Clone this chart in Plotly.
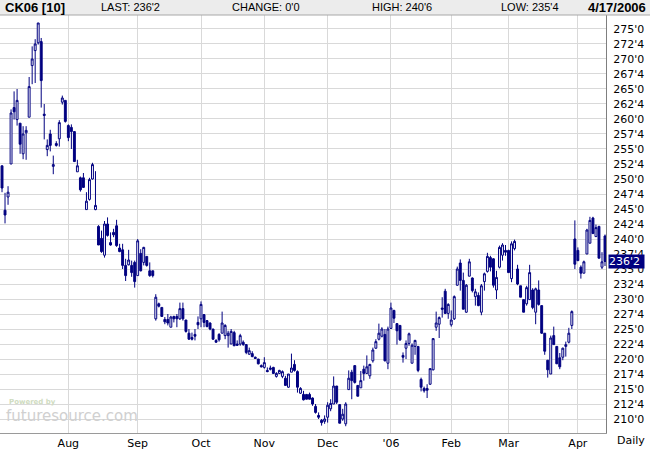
import pandas as pd
import plotly.graph_objects as go

# CK06 corn futures, daily bars, prices in cents
holidays = ['2005-07-04', '2005-09-05', '2005-11-24', '2005-12-26',
            '2006-01-02', '2006-01-16', '2006-02-20', '2006-04-14']
days = pd.bdate_range('2005-06-29', '2006-04-17', freq='C', holidays=holidays)
dates = [d.strftime('%Y-%m-%d') for d in days]

opens = [252.2, 244.8, 247.0, 252.5, 261.9, 259.9, 259.3, 254.2, 257.7, 260.3,
         268.9, 271.4, 272.7, 272.9, 260.8, 254.9, 257.5, 252.1, 255.9, 256.7,
         262.8, 263.1, 258.9, 258.6, 257.9, 251.2, 250.2, 250.2, 244.9, 246.6,
         250.0, 244.9, 242.1, 240.1, 237.3, 242.5, 239.4, 241.1, 242.2, 238.5,
         238.2, 235.6, 235.7, 235.6, 236.1, 233.9, 237.6, 236.1, 237.1, 234.7,
         234.7, 226.7, 229.2, 228.6, 226.6, 226.6, 225.3, 227.1, 227.1, 226.7,
         228.4, 226.5, 224.3, 223.6, 224.1, 226.1, 226.7, 227.4, 226.4, 226.0,
         225.0, 223.1, 224.1, 224.3, 223.9, 223.9, 222.5, 224.4, 222.5, 222.5,
         222.8, 222.4, 220.8, 220.9, 220.3, 220.0, 218.9, 218.6, 218.1, 218.5,
         218.6, 217.1, 217.6, 217.1, 216.8, 215.3, 217.8, 219.1, 217.9, 214.3,
         214.1, 214.1, 214.1, 213.5, 212.1, 210.6, 209.8, 209.6, 210.3, 211.7,
         212.5, 215.5, 212.4, 210.0, 209.2, 214.9, 217.8, 218.9, 215.6, 215.2,
         218.3, 217.6, 217.2, 219.7, 221.8, 223.3, 223.8, 224.1, 219.3, 225.1,
         228.1, 225.9, 225.6, 220.6, 221.8, 222.6, 219.3, 222.1, 222.1, 216.6,
         215.1, 215.1, 215.8, 218.2, 225.3, 225.8, 228.5, 231.3, 227.6, 225.7,
         226.7, 232.3, 236.0, 233.1, 227.8, 233.8, 233.5, 230.4, 230.6, 227.8,
         232.9, 234.6, 236.9, 236.7, 231.5, 235.3, 237.3, 238.1, 238.1, 233.4,
         238.4, 235.0, 232.2, 229.9, 229.2, 229.9, 231.5, 227.8, 231.5, 228.9,
         224.3, 219.8, 217.5, 223.9, 222.1, 220.2, 220.3, 222.1, 222.8, 225.6,
         240.0, 238.1, 235.3, 234.3, 237.5, 239.3, 243.5, 240.4, 242.1, 235.3,
         240.5]
highs = [252.2, 247.7, 248.8, 261.6, 264.6, 265.0, 259.3, 258.8, 258.8, 267.0,
         272.1, 273.3, 276.0, 273.5, 262.5, 256.6, 258.2, 253.9, 256.3, 259.8,
         263.9, 263.1, 259.1, 259.1, 257.9, 253.2, 250.4, 251.0, 247.8, 250.2,
         252.7, 251.3, 242.3, 241.4, 243.0, 243.6, 241.1, 241.7, 243.2, 239.2,
         239.2, 236.7, 238.2, 236.4, 236.4, 240.0, 238.3, 238.7, 237.1, 236.1,
         234.7, 230.8, 229.4, 228.6, 227.0, 227.5, 227.2, 227.2, 227.5, 229.4,
         229.4, 226.5, 225.0, 224.4, 225.0, 227.1, 229.6, 227.4, 226.5, 226.1,
         225.0, 223.3, 224.3, 227.9, 225.8, 224.7, 225.0, 224.7, 223.1, 224.2,
         223.1, 222.5, 221.9, 221.3, 220.4, 220.0, 219.1, 220.3, 218.6, 218.9,
         218.7, 217.8, 218.2, 218.1, 217.2, 217.5, 220.9, 219.8, 218.1, 215.3,
         214.7, 214.1, 214.4, 213.6, 212.5, 211.1, 210.0, 210.6, 212.8, 213.3,
         217.1, 215.5, 212.4, 211.7, 212.8, 218.1, 218.2, 218.9, 215.6, 218.0,
         218.9, 220.6, 219.2, 221.9, 223.3, 225.9, 225.3, 225.0, 225.4, 229.4,
         228.2, 225.9, 225.6, 221.1, 223.1, 224.4, 222.6, 223.2, 222.1, 216.9,
         215.4, 215.8, 218.4, 223.5, 227.9, 227.1, 230.3, 231.7, 229.3, 228.1,
         230.6, 235.4, 236.6, 234.4, 232.5, 236.7, 233.6, 231.7, 231.1, 232.5,
         234.4, 237.7, 237.2, 236.8, 234.7, 238.9, 239.3, 239.0, 238.2, 239.6,
         239.9, 235.7, 232.2, 229.9, 232.2, 235.7, 231.8, 231.9, 233.1, 228.9,
         224.3, 219.8, 223.9, 225.4, 222.1, 221.0, 221.9, 222.9, 225.2, 228.1,
         243.1, 238.6, 235.6, 236.4, 241.7, 243.7, 243.7, 242.4, 242.2, 237.8,
         240.75]
lows = [247.8, 242.6, 245.7, 252.5, 259.9, 258.9, 254.2, 253.3, 253.2, 260.3,
        265.8, 266.0, 272.4, 261.9, 256.6, 253.8, 254.6, 250.8, 255.4, 255.4,
        262.4, 259.4, 256.3, 255.0, 252.9, 251.2, 247.9, 248.5, 244.9, 246.4,
        249.9, 244.8, 239.0, 237.7, 236.9, 240.4, 238.9, 240.3, 238.7, 237.8,
        235.0, 233.0, 235.6, 233.7, 231.9, 233.9, 234.6, 235.6, 235.4, 233.7,
        233.6, 226.4, 228.6, 227.0, 225.8, 225.6, 225.3, 226.1, 225.3, 226.5,
        226.4, 224.4, 223.2, 223.1, 223.1, 225.0, 225.3, 225.3, 225.3, 224.8,
        223.2, 222.7, 222.9, 224.3, 223.3, 221.9, 222.5, 222.2, 222.2, 222.2,
        222.2, 220.8, 220.7, 220.3, 220.0, 219.1, 218.6, 218.4, 217.8, 218.1,
        217.5, 216.9, 217.5, 216.8, 215.6, 215.2, 217.8, 217.9, 214.4, 214.2,
        213.1, 213.3, 213.3, 212.2, 210.9, 210.0, 208.9, 209.2, 209.4, 211.3,
        212.5, 212.5, 209.3, 209.7, 208.8, 214.9, 213.3, 215.9, 213.8, 215.2,
        216.4, 217.6, 216.7, 219.4, 221.7, 223.1, 223.6, 219.6, 218.3, 225.0,
        226.0, 222.4, 223.0, 219.4, 220.0, 222.2, 219.3, 220.7, 217.8, 214.6,
        214.4, 213.5, 215.7, 218.1, 224.7, 223.5, 226.9, 227.6, 226.7, 225.4,
        226.5, 232.2, 231.4, 228.3, 227.7, 233.8, 231.1, 228.9, 228.8, 227.3,
        231.4, 234.4, 234.6, 231.9, 230.0, 235.1, 236.4, 237.2, 234.4, 232.8,
        238.1, 232.3, 230.3, 227.8, 228.9, 229.9, 228.3, 225.8, 228.9, 224.2,
        220.7, 216.9, 217.5, 222.4, 219.2, 218.3, 219.8, 220.4, 222.6, 225.0,
        235.0, 236.3, 233.4, 234.3, 237.5, 239.3, 240.9, 240.4, 236.8, 235.0,
        235.5]
closes = [248.5, 244.0, 247.8, 261.0, 261.2, 263.1, 255.8, 257.5, 258.1, 265.4,
          270.0, 272.5, 276.0, 266.4, 260.6, 255.6, 255.6, 252.4, 255.6, 259.4,
          263.5, 259.6, 256.9, 257.9, 252.9, 252.2, 248.2, 248.6, 246.3, 249.9,
          252.4, 245.6, 239.0, 237.9, 242.5, 240.6, 239.0, 240.7, 238.9, 237.9,
          235.6, 233.9, 236.5, 234.4, 232.9, 239.7, 234.7, 238.6, 235.6, 233.9,
          233.9, 230.3, 228.8, 227.1, 226.2, 226.0, 227.0, 226.7, 226.7, 228.4,
          226.7, 224.6, 223.3, 223.3, 223.8, 225.7, 229.1, 226.1, 225.4, 225.0,
          223.3, 222.8, 223.2, 226.0, 225.6, 224.3, 224.6, 222.2, 222.3, 223.9,
          222.4, 221.1, 221.4, 220.4, 220.1, 219.2, 218.7, 219.4, 217.9, 218.3,
          217.6, 217.6, 218.1, 217.9, 215.6, 217.5, 218.5, 218.1, 215.3, 215.1,
          213.2, 213.3, 213.3, 212.5, 211.1, 210.3, 209.4, 210.0, 212.3, 212.6,
          215.5, 212.8, 209.3, 210.8, 212.5, 216.8, 216.4, 216.1, 213.8, 216.4,
          217.6, 218.7, 219.1, 221.5, 222.9, 224.3, 225.0, 219.7, 225.0, 228.5,
          226.8, 224.7, 223.2, 220.3, 222.6, 224.2, 222.3, 223.1, 218.1, 215.3,
          214.7, 214.8, 218.4, 223.4, 226.0, 226.9, 228.3, 227.6, 229.1, 226.5,
          230.4, 235.0, 233.1, 228.3, 232.3, 236.2, 231.4, 231.2, 228.9, 232.2,
          234.2, 237.1, 235.3, 232.3, 233.6, 238.6, 239.0, 237.8, 234.4, 239.2,
          239.6, 232.5, 230.3, 227.8, 231.9, 234.4, 228.6, 231.7, 229.1, 224.3,
          221.3, 218.2, 223.5, 222.4, 219.2, 218.7, 221.8, 222.4, 224.3, 227.9,
          235.8, 236.4, 234.3, 236.2, 241.5, 243.1, 240.9, 241.9, 236.8, 236.2,
          236.25]

month_ticks = ['2005-08-01', '2005-09-01', '2005-10-03', '2005-11-01', '2005-12-01',
               '2006-01-03', '2006-02-01', '2006-03-01', '2006-04-03']
month_labels = ['Aug', 'Sep', 'Oct', 'Nov', 'Dec', "'06", 'Feb', 'Mar', 'Apr']

price_ticks = [210 + 2.5 * k for k in range(27)]


def eighths(p):
    whole = int(p)
    return "%d'%d" % (whole, round((p - whole) * 8))


navy = '#000080'
last, change, high, low = closes[-1], 0.0, highs[-1], lows[-1]

fig = go.Figure(go.Candlestick(
    x=dates, open=opens, high=highs, low=lows, close=closes,
    increasing=dict(line=dict(color=navy, width=1), fillcolor='white'),
    decreasing=dict(line=dict(color=navy, width=1), fillcolor=navy),
    whiskerwidth=0, hoverinfo='skip', showlegend=False))

fig.update_layout(
    width=650, height=450,
    margin=dict(l=0, r=44, t=15, b=17),
    paper_bgcolor='white', plot_bgcolor='white',
    boxgap=0.1,
    font=dict(family='DejaVu Sans', size=11, color='black'),
    xaxis=dict(type='category', range=[-0.67, len(dates) - 0.67],
               tickvals=month_ticks, ticktext=month_labels,
               showgrid=True, gridcolor='#d9d9d9', gridwidth=1,
               showline=True, linecolor='#9a9a9a', linewidth=1,
               ticks='', ticklabelstandoff=0,
               rangeslider=dict(visible=False), fixedrange=True),
    yaxis=dict(side='right', range=[207.67, 277.33],
               tickvals=price_ticks, ticktext=[eighths(p) for p in price_ticks],
               showgrid=True, gridcolor='#d9d9d9', gridwidth=1,
               showline=True, linecolor='#7f7f7f', linewidth=1,
               ticks='', ticklabelstandoff=4, zeroline=False, fixedrange=True),
)

# header band
fig.add_shape(type='rect', xref='paper', yref='paper',
              x0=0, x1=650 / 606, y0=1.0, y1=433 / 418,
              fillcolor='#ececec', line=dict(width=0), layer='below')
fig.add_shape(type='line', xref='paper', yref='paper',
              x0=0, x1=650 / 606, y0=1.0, y1=1.0,
              line=dict(color='#a8a8a8', width=1))

hy = 1.019
head = dict(xref='paper', yref='paper', y=hy, yanchor='middle', showarrow=False,
            font=dict(family='Liberation Sans', size=11, color='black'))
fig.add_annotation(x=3 / 606, xanchor='left', text='<b>CK06 [10]</b>',
                   **{**head, 'font': dict(family='Liberation Sans', size=13)})
fig.add_annotation(x=130 / 606, xanchor='center', text='LAST: ' + eighths(last), **head)
fig.add_annotation(x=266 / 606, xanchor='center', text='CHANGE: ' + eighths(change), **head)
fig.add_annotation(x=402 / 606, xanchor='center', text='HIGH: ' + eighths(high), **head)
fig.add_annotation(x=530 / 606, xanchor='center', text='LOW: ' + eighths(low), **head)
fig.add_annotation(x=648 / 606, xanchor='right', text='<b>4/17/2006</b>',
                   **{**head, 'font': dict(family='Liberation Sans', size=13)})

# last price box on the axis
fig.add_annotation(xref='paper', x=1.0, xanchor='left', xshift=2, y=last, yref='y',
                   text=eighths(last) + ' ', showarrow=False, bgcolor=navy, borderpad=0,
                   font=dict(family='DejaVu Sans', size=11, color='white'))

fig.add_annotation(xref='paper', yref='paper', x=1.0, xanchor='left', xshift=9,
                   y=0, yanchor='top', yshift=1, text='Daily', showarrow=False,
                   font=dict(family='DejaVu Sans', size=11, color='black'))

# watermark
fig.add_annotation(xref='paper', yref='paper', x=7 / 606, y=(433 - 402) / 418,
                   xanchor='left', yanchor='middle', text='<b>Powered by</b>',
                   showarrow=False, font=dict(family='DejaVu Sans', size=7, color='#cfdcbf'))
fig.add_annotation(xref='paper', yref='paper', x=4 / 606, y=(433 - 416) / 418,
                   xanchor='left', yanchor='middle', text='futuresource.com',
                   showarrow=False, font=dict(family='DejaVu Sans', size=15, color='#d0d0d0'))

fig.write_html('out.html', config={'displayModeBar': False},
               post_script="document.body.style.margin='0';")
